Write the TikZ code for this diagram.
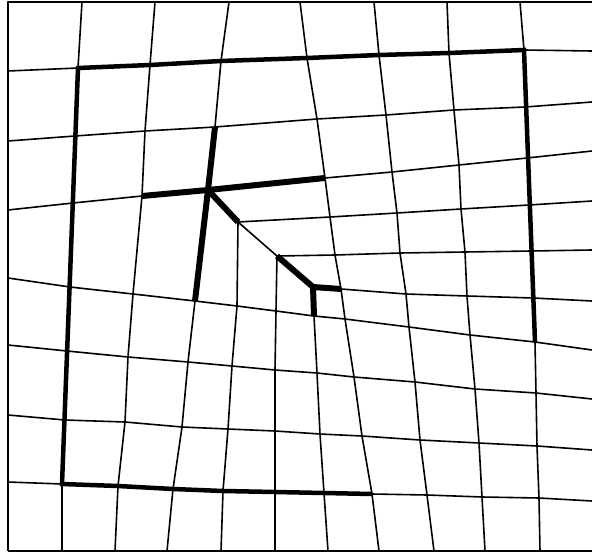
\documentclass[tikz,border=0pt]{standalone}
\usepackage{tikz}

\begin{document}
\begin{tikzpicture}[x=1pt, y=-1pt,
    mesh/.style={line width=1.6pt, black, line join=round},
    circuit/.style={line width=4.5pt, black, line join=miter},
    core/.style={line width=6pt, black, line join=miter}]
  \useasboundingbox (0,0) rectangle (592,554);
  % frame
  \draw[mesh] (8,551) -- (8,2) -- (592,2);
  \draw[mesh] (8,551) -- (592,551);
  % extra half planes start here
  \coordinate (c0) at (208,190);
  \coordinate (c1) at (238,222);
  \coordinate (c2) at (277,256);
  \coordinate (c3) at (313,287);
  % rows
  \draw[mesh] (8,71) -- (78,68) -- (150,65) -- (221,61) -- (307,58) -- (379,55) -- (449,53) -- (524,50) -- (592,51);
  \draw[mesh] (8,141) -- (75,136) -- (145,131) -- (215,127) -- (317,119) -- (386,115) -- (454,110) -- (525,107) -- (592,102);
  \draw[mesh] (8,210) -- (73,203) -- (142,196) -- (c0) -- (325,178) -- (392,172) -- (459,165) -- (527,158) -- (592,151);
  \draw[mesh] (c1) -- (330,217) -- (397,213) -- (461,209) -- (529,205) -- (592,201);
  \draw[mesh] (c2) -- (335,255) -- (400,253) -- (465,252) -- (531,251) -- (592,250);
  \draw[mesh] (c3) -- (341,289) -- (406,294) -- (467,296) -- (533,298) -- (592,301);
  \draw[mesh] (8,278) -- (70,287) -- (133,294) -- (195,301) -- (237,306) -- (276,311) -- (314,316) -- (345,319) -- (409,327) -- (470,335) -- (535,342) -- (592,350);
  \draw[mesh] (8,345) -- (67,351) -- (128,357) -- (188,362) -- (232,366) -- (275,370) -- (317,373) -- (354,377) -- (415,382) -- (475,389) -- (536,393) -- (592,399);
  \draw[mesh] (8,415) -- (65,420) -- (125,422) -- (182,427) -- (228,429) -- (275,431) -- (320,434) -- (362,436) -- (420,440) -- (479,443) -- (537,446) -- (592,450);
  \draw[mesh] (8,482) -- (62,484) -- (118,486) -- (173,489) -- (223,491) -- (275,492) -- (324,493) -- (372,494) -- (427,495) -- (482,497) -- (539,498) -- (592,501);
  % columns
  \draw[mesh] (82,2) -- (78,68) -- (62,484) -- (62,551);
  \draw[mesh] (155,2) -- (150,65) -- (145,131) -- (142,196) -- (133,294) -- (128,357) -- (125,422) -- (118,486) -- (115,551);
  \draw[mesh] (229,2) -- (221,61) -- (215,127) -- (c0) -- (195,301) -- (188,362) -- (182,427) -- (173,489) -- (167,551);
  \draw[mesh] (c1) -- (237,306) -- (232,366) -- (228,429) -- (223,491) -- (221,551);
  \draw[mesh] (c2) -- (276,311) -- (275,370) -- (275,431) -- (275,492) -- (275,551);
  \draw[mesh] (c3) -- (314,316) -- (317,373) -- (320,434) -- (324,493) -- (328,551);
  \draw[mesh] (300,2) -- (307,58) -- (317,119) -- (325,178) -- (330,217) -- (335,255) -- (341,289) -- (345,319) -- (354,377) -- (362,436) -- (372,494) -- (379,551);
  \draw[mesh] (374,2) -- (379,55) -- (386,115) -- (392,172) -- (397,213) -- (400,253) -- (406,294) -- (409,327) -- (415,382) -- (420,440) -- (427,495) -- (434,551);
  \draw[mesh] (447,2) -- (449,53) -- (454,110) -- (459,165) -- (461,209) -- (465,252) -- (467,296) -- (470,335) -- (475,389) -- (479,443) -- (482,497) -- (485,551);
  \draw[mesh] (520,2) -- (524,50) -- (535,342) -- (536,393) -- (537,446) -- (539,498) -- (540,551);
  \draw[mesh] (c0) -- (c1) -- (c2) -- (c3);
  % circuit
  \draw[circuit] (372,494) -- (324,493) -- (275,492) -- (223,491) -- (173,489) -- (118,486) -- (62,484)
    -- (78,68) -- (150,65) -- (221,61) -- (307,58) -- (379,55) -- (449,53) -- (524,50)
    -- (535,342);
  % core
  \draw[core] (142,196) -- (c0) -- (325,178);
  \draw[core] (215,127) -- (c0) -- (195,301);
  \draw[core] (c0) -- (c1);
  \draw[core] (c2) -- (c3);
  \draw[core] (341,289) -- (c3) -- (314,316);
\end{tikzpicture}
\end{document}
